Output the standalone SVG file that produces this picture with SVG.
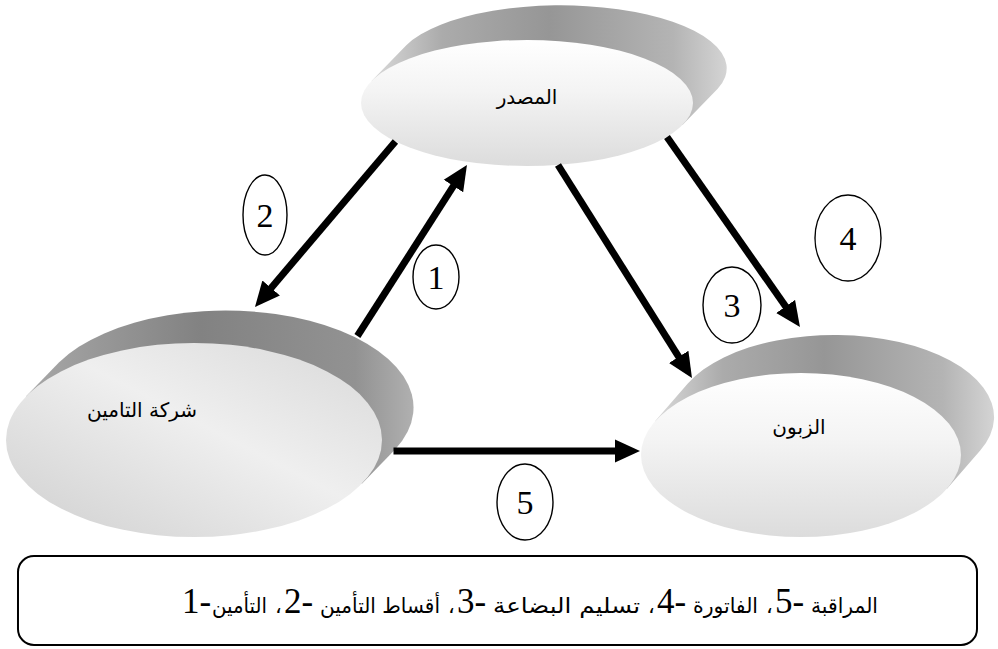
<svg xmlns="http://www.w3.org/2000/svg" width="998" height="649" viewBox="0 0 998 649">
  <defs>
    <style>
      .lbl { font-family: "DejaVu Sans", sans-serif; font-size: 20px; fill: #000; text-anchor: middle; }
      .num { font-family: "Liberation Serif", "DejaVu Serif", serif; font-size: 34px; fill: #000; text-anchor: middle; }
      .badge { fill: #fff; stroke: #000; stroke-width: 1.4; }
      .conn { stroke: #000; stroke-width: 7; fill: none; marker-end: url(#ah); }
      .ar { font-family: "DejaVu Sans", sans-serif; font-size: 21px; fill: #000; }
      .ld { font-family: "Liberation Serif", "DejaVu Serif", serif; font-size: 35px; fill: #000; }
    </style>
    <marker id="ah" markerUnits="userSpaceOnUse" markerWidth="26" markerHeight="24" refX="1" refY="12" orient="auto" viewBox="0 0 26 24">
      <path d="M0,0.5 L25,12 L0,23.5 Z" fill="#000"/>
    </marker>
    <linearGradient id="ext" x1="0" y1="0" x2="1" y2="0">
      <stop offset="0" stop-color="#dadada"/>
      <stop offset="0.2" stop-color="#ababab"/>
      <stop offset="0.5" stop-color="#969696"/>
      <stop offset="0.85" stop-color="#b4b4b4"/>
      <stop offset="1" stop-color="#d4d4d4"/>
    </linearGradient>
    <linearGradient id="extDark" x1="0" y1="0" x2="1" y2="0">
      <stop offset="0" stop-color="#a8a8a8"/>
      <stop offset="0.45" stop-color="#828282"/>
      <stop offset="0.85" stop-color="#929292"/>
      <stop offset="1" stop-color="#b0b0b0"/>
    </linearGradient>
    <linearGradient id="face" x1="0" y1="0" x2="0" y2="1">
      <stop offset="0" stop-color="#ffffff"/>
      <stop offset="0.4" stop-color="#f4f4f4"/>
      <stop offset="1" stop-color="#dcdcdc"/>
    </linearGradient>
    <linearGradient id="faceL" x1="0" y1="1" x2="1" y2="0">
      <stop offset="0" stop-color="#cfcfcf"/>
      <stop offset="0.55" stop-color="#efefef"/>
      <stop offset="1" stop-color="#d8d8d8"/>
    </linearGradient>
  </defs>

  <g id="node-source">
    <path d="M371.3,81.2 L406.3,45.2 A166,63 0 0 1 717.7,88.8 L682.7,124.8 Z" fill="url(#ext)"/>
    <ellipse cx="527" cy="103" rx="166" ry="63" fill="url(#face)"/>
    <text class="lbl" x="527" y="104">المصدر</text>
  </g>

  <g id="node-insurer">
    <path d="M25.9,396.6 L58.9,362.6 A188,97 0 0 1 395.1,449.4 L362.1,483.4 Z" fill="url(#extDark)"/>
    <ellipse cx="194" cy="440" rx="188" ry="97" fill="url(#faceL)"/>
    <text class="lbl" x="142" y="417">شركة التامين</text>
  </g>

  <g id="node-client">
    <path d="M654.8,421.6 L687.8,383.6 A160,82 0 0 1 980.2,450.4 L947.2,488.4 Z" fill="url(#ext)"/>
    <ellipse cx="801" cy="455" rx="160" ry="82" fill="url(#face)"/>
    <text class="lbl" x="799" y="434">الزبون</text>
  </g>

  <g id="connectors">
    <line class="conn" x1="357.4" y1="336" x2="454" y2="185.2"/>
    <line class="conn" x1="395.4" y1="141.5" x2="270.5" y2="288.7"/>
    <line class="conn" x1="558" y1="165" x2="679.2" y2="357.7"/>
    <line class="conn" x1="667" y1="137" x2="786.2" y2="307.3"/>
    <line class="conn" x1="393.5" y1="451" x2="616" y2="451"/>
  </g>

  <g id="badge-1">
    <ellipse class="badge" cx="436" cy="277" rx="23" ry="32"/>
    <text class="num" x="436" y="289">1</text>
  </g>
  <g id="badge-2">
    <ellipse class="badge" cx="265" cy="215" rx="22" ry="40"/>
    <text class="num" x="265" y="227">2</text>
  </g>
  <g id="badge-3">
    <ellipse class="badge" cx="732" cy="305" rx="29" ry="38"/>
    <text class="num" x="732" y="317">3</text>
  </g>
  <g id="badge-4">
    <ellipse class="badge" cx="848" cy="238" rx="33" ry="43"/>
    <text class="num" x="848" y="250">4</text>
  </g>
  <g id="badge-5">
    <ellipse class="badge" cx="525" cy="502" rx="28" ry="38"/>
    <text class="num" x="525" y="514">5</text>
  </g>

  <g id="legend">
    <rect x="18" y="556" width="959" height="89" rx="16" ry="16" fill="#fff" stroke="#000" stroke-width="2"/>
    <text class="ld" x="182" y="613">1-</text>
    <text class="ar" x="212" y="613" textLength="55" lengthAdjust="spacingAndGlyphs">التأمين</text>
    <text class="ar" x="275" y="613">،</text>
    <text class="ld" x="284" y="613">2-</text>
    <text class="ar" x="320" y="613" textLength="120" lengthAdjust="spacingAndGlyphs">أقساط التأمين</text>
    <text class="ar" x="448" y="613">،</text>
    <text class="ld" x="457" y="613">3-</text>
    <text class="ar" x="493" y="613" textLength="147" lengthAdjust="spacingAndGlyphs">تسليم البضاعة</text>
    <text class="ar" x="648" y="613">،</text>
    <text class="ld" x="657" y="613">4-</text>
    <text class="ar" x="693" y="613" textLength="65" lengthAdjust="spacingAndGlyphs">الفاتورة</text>
    <text class="ar" x="766" y="613">،</text>
    <text class="ld" x="775" y="613">5-</text>
    <text class="ar" x="811" y="613" textLength="67" lengthAdjust="spacingAndGlyphs">المراقبة</text>
  </g>
</svg>
